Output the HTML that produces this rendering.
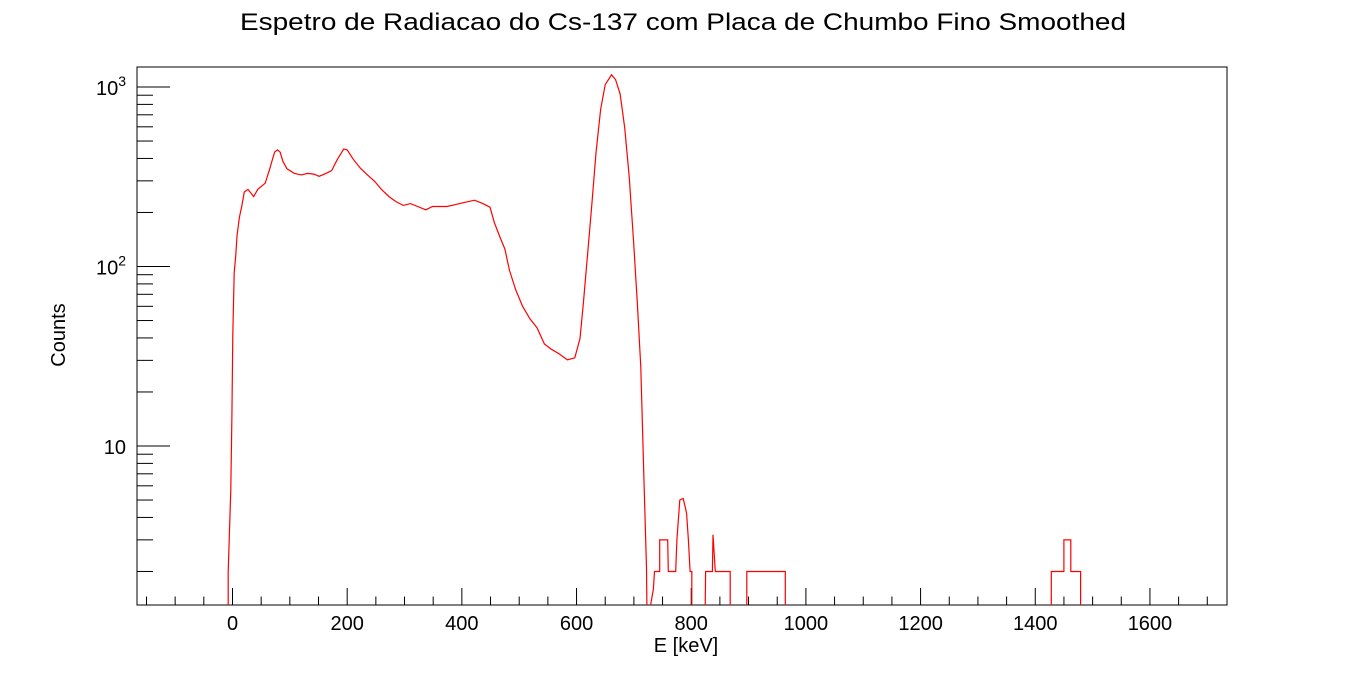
<!DOCTYPE html>
<html><head><meta charset="utf-8"><style>html,body{margin:0;padding:0;background:#fff}svg{display:block}text{font-family:"Liberation Sans",sans-serif;fill:#000}</style></head>
<body>
<svg id="chart" width="1364" height="673" viewBox="0 0 1364 673" xmlns="http://www.w3.org/2000/svg">
<defs><clipPath id="clip"><rect x="137" y="67" width="1090" height="538"/></clipPath></defs>
<rect x="137" y="67" width="1090" height="538" fill="none" stroke="#000" stroke-width="1"/>
<text x="683" y="30" font-size="24" text-anchor="middle" textLength="886" lengthAdjust="spacingAndGlyphs">Espetro de Radiacao do Cs-137 com Placa de Chumbo Fino Smoothed</text>
<text x="686" y="652" font-size="20" text-anchor="middle">E [keV]</text>
<text transform="translate(65,335) rotate(-90)" font-size="20" text-anchor="middle">Counts</text>
<g id="axes"></g>
<g id="series" clip-path="url(#clip)"></g>
</svg>
<script>
const energies=[-12,-7.5,-7.5,-3,-1,0.6,3,5.6,8,12,16,20.5,27,37,44,57,64,73.5,78.5,83,88,95,108,120,131,142,151,163,173,182.5,194,200,210.5,223,235.5,248,260,273,285,298,310,323,337,349,362,374,388,403.6,422,436.6,449,456.6,466,475,483,494,506,519,531,544,556,569,584,597,606,612,618.5,626,634,642,650,661,668,676,684,692,699.5,706,712,718,722,723,
734,736,745,745,759,760,773,775,780,786,790,792,795,798,801,801,
824,825,837,838,842,868,868,
897,897,964,964,
1428,1428,1450,1450,1462,1462,1479,1479];
const counts=[1,1,2,5.7,14.7,41.6,92.7,114,150,188,216,260,269,245,269,291,342,434,446,434,384,350,330,324,330,327,318,330,342,393,451,446,396,353,324,298,268,245,230,219,224,216,207,216,216,216,221,227,234,224,214,176,147,125,95,74,60,51,45.6,37,34.6,32.7,30.2,31,39.7,62.8,109,207,430,747,1030,1169,1101,916,593,312,137,63,27.5,5.8,2.1,1,
1.6,2,2,3,3,2,2,3,5,5.1,4.5,4.2,3,2,2,1,
1,2,2,3.2,2,2,1,
1,2,2,1,
1,2,2,3,3,2,2,1];
const xTicks=[0,200,400,600,800,1000,1200,1400,1600];
const yMajor=[10,100,1000];
const yLabels=["10","10<tspan font-size='14' dy='-9'>2</tspan>","10<tspan font-size='14' dy='-9'>3</tspan>"];
const X0=232.5,XS=0.5734,L=137,R=1227,T=67,B=605;
const xs=e=>X0+e*XS;
const ys=c=>446-(Math.log10(Math.max(c,0.5))-1)*179.5;
const ns="http://www.w3.org/2000/svg";
const axes=document.getElementById('axes');
function ln(x1,y1,x2,y2,name){const l=document.createElementNS(ns,'line');
l.setAttribute('x1',x1);l.setAttribute('y1',y1);l.setAttribute('x2',x2);l.setAttribute('y2',y2);l.setAttribute('stroke','#000');


axes.appendChild(l);}
for(let e=-150;e<=1700;e+=50){const x=xs(e);if(x<L||x>R)continue;const major=e%200===0;ln(x,B,x,B-(major?17:8.5),major?'x-major-tick':'x-minor-tick');}
xTicks.forEach(v=>{const t=document.createElementNS(ns,'text');t.setAttribute('x',xs(v));t.setAttribute('y',630);t.setAttribute('font-size','20');t.setAttribute('text-anchor','middle');t.textContent=v;


axes.appendChild(t);});
for(let d=1;d<=1000;d*=10){for(let m=1;m<10;m++){const v=d*m;const y=ys(v);if(y<T||y>B)continue;ln(L,y,L+(m===1?33:16),y,m===1?'y-major-tick':'y-minor-tick');}}
yMajor.forEach((v,i)=>{const t=document.createElementNS(ns,'text');t.setAttribute('x',126);t.setAttribute('y',ys(v)+8);t.setAttribute('font-size','20');t.setAttribute('text-anchor','end');t.innerHTML=yLabels[i];


axes.appendChild(t);});
const p=document.createElementNS(ns,'polyline');
p.setAttribute('points',energies.map((e,i)=>xs(e).toFixed(1)+','+ys(counts[i]).toFixed(1)).join(' '));
p.setAttribute('fill','none');p.setAttribute('stroke','#f00');p.setAttribute('stroke-width','1.2');


document.getElementById('series').appendChild(p);
</script>
</body></html>
